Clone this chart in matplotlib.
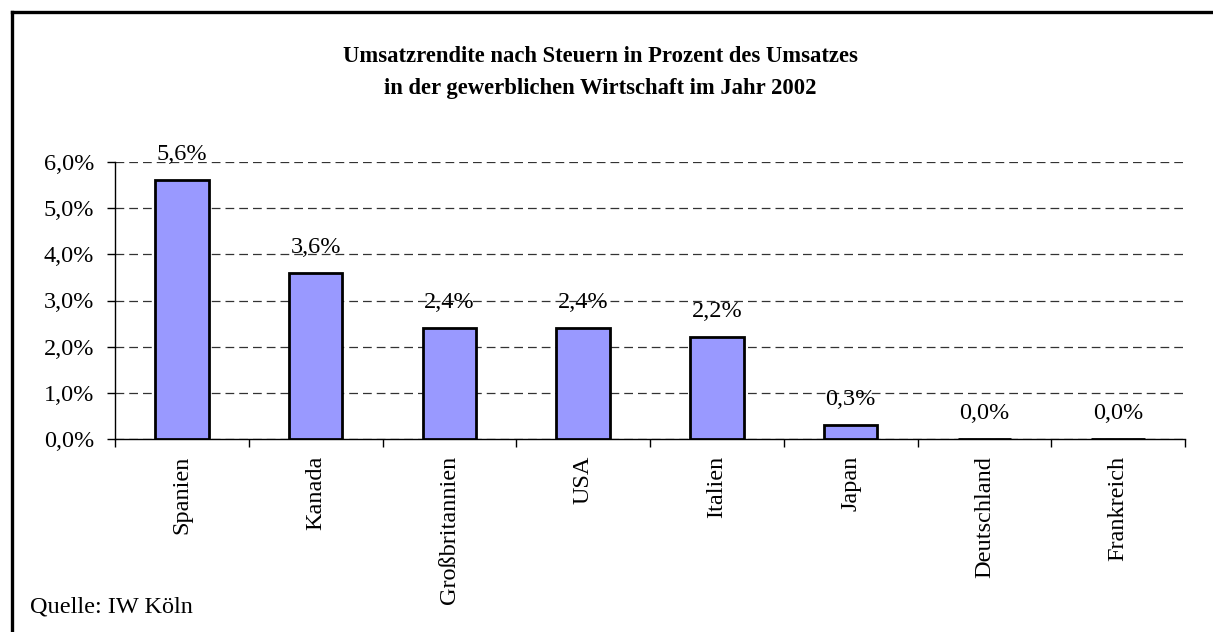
import matplotlib
matplotlib.use("Agg")
import matplotlib.pyplot as plt
from matplotlib.lines import Line2D
from matplotlib.ticker import FuncFormatter, FixedLocator

plt.rcParams['font.family'] = ['Liberation Serif', 'DejaVu Serif']

categories = ["Spanien", "Kanada", "Großbritannien", "USA", "Italien", "Japan", "Deutschland", "Frankreich"]
values = [5.6, 3.6, 2.4, 2.4, 2.2, 0.3, 0.0, 0.0]
yticks = [0, 1, 2, 3, 4, 5, 6]
title = "Umsatzrendite nach Steuern in Prozent des Umsatzes\nin der gewerblichen Wirtschaft im Jahr 2002"
source = "Quelle: IW Köln"

W, H = 1213, 632
FS = 17.5
fig = plt.figure(figsize=(W / 100, H / 100), dpi=100)
ax = fig.add_axes([115 / W, 1 - 439 / H, (1185 - 115) / W, (439 - 162) / H])

x = list(range(len(categories)))
ax.bar(x, values, width=0.40, color="#9999FF", edgecolor="black", linewidth=2, zorder=3)

ax.set_xlim(-0.5, len(categories) - 0.5)
ax.set_ylim(0, 6)
ax.set_yticks(yticks)
ax.yaxis.set_major_formatter(FuncFormatter(lambda v, p: f"{v:.1f}".replace(".", ",") + "%"))
ax.grid(axis="y", color="#333333", linestyle=(0, (7, 4)), linewidth=0.9, zorder=0)

ax.set_xticks(x)
ax.set_xticklabels(categories, rotation=90, fontsize=FS)
ax.tick_params(axis="x", which="major", length=0, pad=12)
ax.xaxis.set_minor_locator(FixedLocator([i - 0.5 for i in range(len(categories) + 1)]))
ax.tick_params(axis="x", which="minor", length=6, width=1, direction="out")
ax.tick_params(axis="y", length=6, width=1, direction="out", labelsize=FS, pad=9)

for s in ["top", "right"]:
    ax.spines[s].set_visible(False)
for s in ["left", "bottom"]:
    ax.spines[s].set_linewidth(1)

for xi, v in zip(x, values):
    ax.annotate(f"{v:.1f}".replace(".", ",") + "%", (xi, v), xytext=(0, 11), textcoords="offset points",
                ha="center", va="bottom", fontsize=FS)

fig.text(600 / W, 1 - 72.5 / H, title, ha="center", va="center", fontsize=16.3, fontweight="bold", linespacing=1.7)
fig.text(30 / W, 1 - 607 / H, source, ha="left", va="center", fontsize=FS)

fig.add_artist(Line2D([12 / W, 1], [1 - 12 / H, 1 - 12 / H], transform=fig.transFigure, color="black", linewidth=2.4))
fig.add_artist(Line2D([12 / W, 12 / W], [0, 1 - 12 / H], transform=fig.transFigure, color="black", linewidth=2.4))

fig.savefig("out.png", dpi=100)
